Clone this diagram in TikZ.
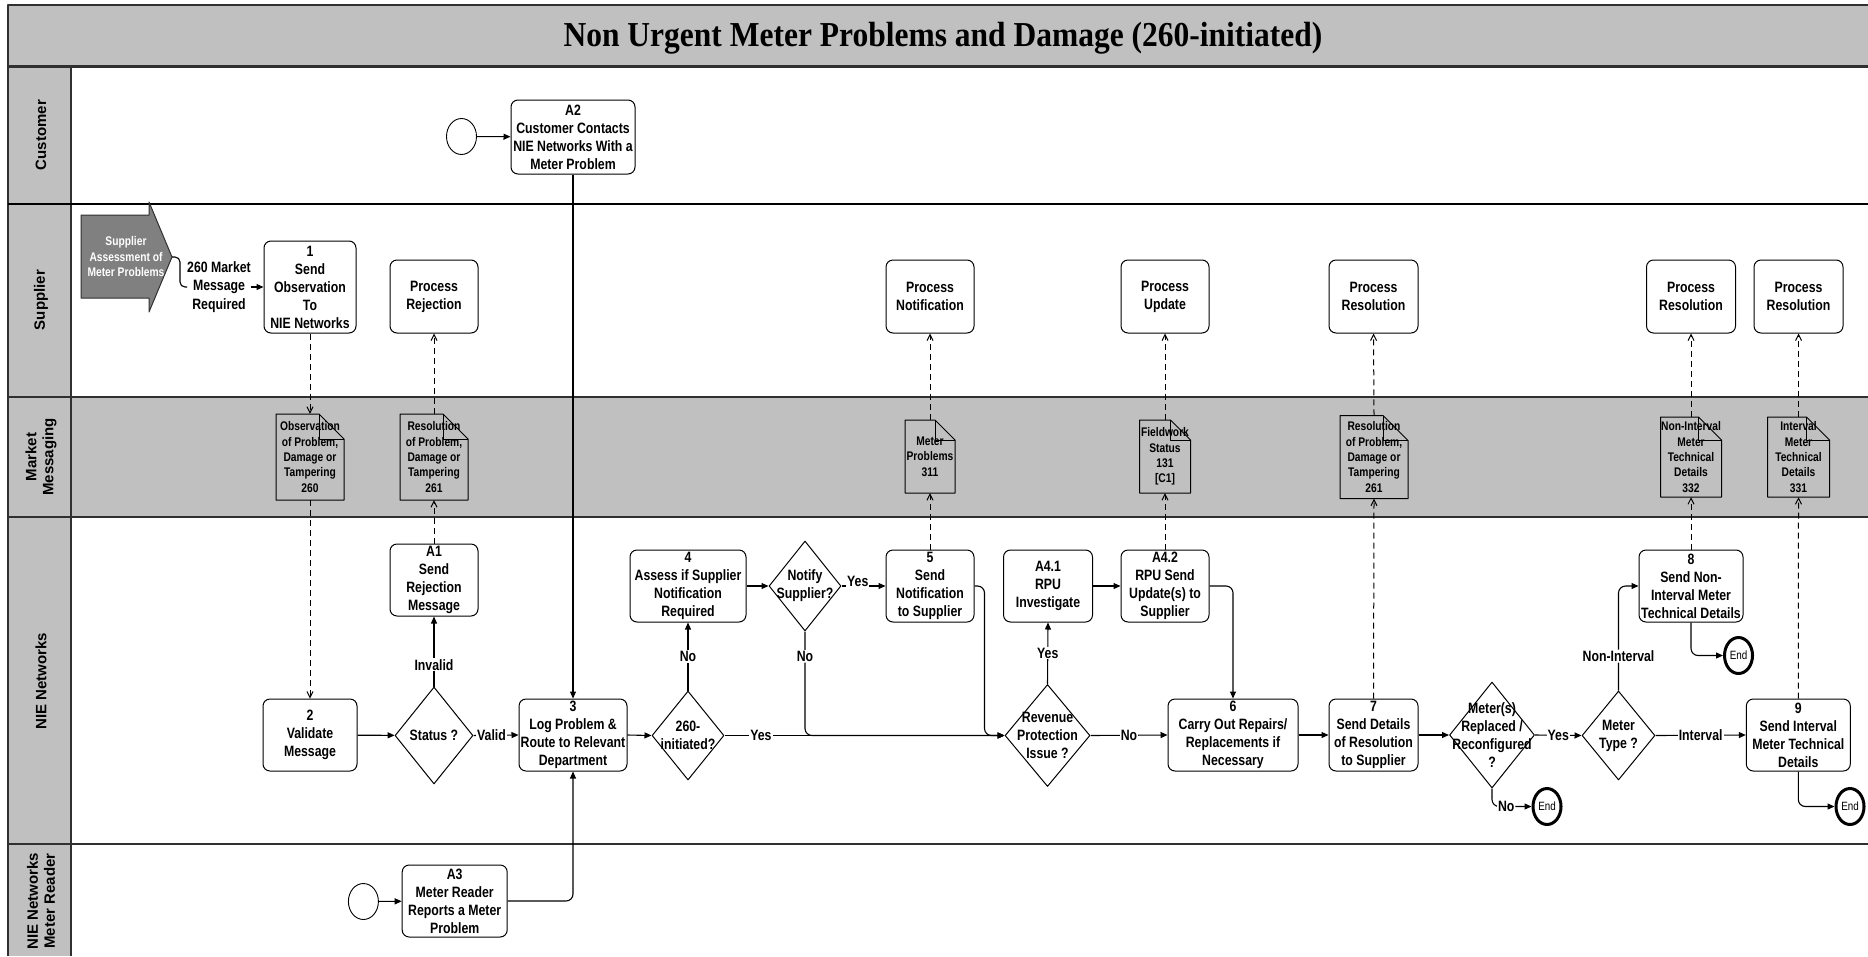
\documentclass[tikz,border=0pt]{standalone}
\usepackage{fontspec}
\usetikzlibrary{arrows.meta,shapes.geometric,calc}
\newfontfamily\nf[FakeStretch=0.82]{Liberation Sans}
\newfontfamily\lf{Liberation Sans}
\newfontfamily\tf[FakeStretch=0.9]{Liberation Serif}
\definecolor{lanegray}{HTML}{C0C0C0}
\definecolor{chevgray}{HTML}{808080}
\definecolor{lineclr}{HTML}{303030}
% name, x, y, w, h, fold, text
\newcommand\docnode[7]{%
  \filldraw[docline] ({#2-#4/2},{#3+#5/2}) -- ({#2-#4/2},{#3-#5/2}) -- ({#2+#4/2-#6},{#3-#5/2}) -- ({#2+#4/2},{#3-#5/2+#6}) -- ({#2+#4/2},{#3+#5/2}) -- cycle;
  \draw[line width=1pt] ({#2+#4/2-#6},{#3-#5/2}) -- ({#2+#4/2-#6},{#3-#5/2+#6}) -- ({#2+#4/2},{#3-#5/2+#6});
  \node[doct, minimum width=#4pt, minimum height=#5pt] (#1) at (#2,#3) {#7};
}
\begin{document}
\begin{tikzpicture}[x=1pt,y=-1pt,line join=round,
 box/.style={draw, rounded corners=7pt, fill=white, line width=1pt, align=center, inner sep=0pt, font=\nf\bfseries\fontsize{15}{18}\selectfont},
 dia/.style={draw, diamond, fill=white, line width=1pt, inner sep=0pt},
 dtext/.style={align=center, inner sep=0pt, font=\nf\bfseries\fontsize{15}{18}\selectfont},
 startc/.style={draw, ellipse, fill=white, line width=0.9pt, minimum width=30pt, minimum height=36pt, inner sep=0pt},
 endc/.style={draw, ellipse, fill=white, line width=3pt, minimum width=28pt, minimum height=36pt, inner sep=0pt, font=\nf\fontsize{12}{14}\selectfont},
 doct/.style={align=center, inner sep=0pt, font=\nf\bfseries\fontsize{12.5}{15.4}\selectfont},
 docline/.style={draw=black, fill=lanegray, line width=1pt},
 lane/.style={rotate=90, align=center, font=\lf\bfseries\fontsize{15}{17}\selectfont},
 chevt/.style={align=center, inner sep=0pt, text=white, font=\nf\bfseries\fontsize{12.5}{15.5}\selectfont},
 arr/.style={-{Triangle[length=7pt,width=6pt]}, line width=1.1pt},
 darr/.style={-{Straight Barb[length=6pt,width=6pt]}, line width=1pt, dash pattern=on 6pt off 4pt},
 plain/.style={line width=1.1pt},
 lbl/.style={fill=white, inner sep=1pt, font=\nf\bfseries\fontsize{15}{18}\selectfont},
 nlbl/.style={inner sep=0pt, align=center, font=\nf\bfseries\fontsize{15}{18.5}\selectfont},
]
\useasboundingbox (0,0) rectangle (1868,956);
% ---------- pool and lanes ----------
\fill[white] (0,0) rectangle (1868,956);
\fill[lanegray] (8,5) rectangle (1868,66);
\fill[lanegray] (8,66) rectangle (71,956);
\fill[lanegray] (71,397) rectangle (1868,517);
\draw[line width=1.5pt, lineclr] (8,956) -- (8,5) -- (1868,5);
\draw[line width=1.5pt, lineclr] (71,66) -- (71,956);
\draw[line width=1.3pt, black] (8,204) -- (1868,204);
\draw[line width=2.5pt, lineclr] (8,397) -- (1868,397);
\draw[line width=2pt, lineclr] (8,517) -- (1868,517);
\draw[line width=1.5pt, lineclr] (8,844) -- (1868,844);
\draw[line width=3pt, lineclr] (8,66) -- (1868,66);
\node (title) at (943,38) {\tf\bfseries\fontsize{35}{40}\selectfont Non Urgent Meter Problems and Damage (260-initiated)};
\node[lane] (lcust) at (41,135) {Customer};
\node[lane] (lsup) at (41,300) {Supplier};
\node[lane] (lmkt) at (41,457) {Market\\Messaging};
\node[lane] (lnie) at (41,681) {NIE Networks};
\node[lane] (lmr) at (41,901) {NIE Networks\\Meter Reader};
% ---------- chevron ----------
\filldraw[fill=chevgray, draw=lineclr, line width=1pt] (81,215) -- (149,215) -- (149,202) -- (172,257) -- (149,312) -- (149,298) -- (81,298) -- cycle;
\node[chevt] (chev) at (126,257) {Supplier\\Assessment of\\Meter Problems};
\coordinate (chevtip) at (172,257);
% ---------- Customer lane ----------
\node[startc] (s1) at (461.5,136.5) {};
\node[box, minimum width=124pt, minimum height=74pt] (A2) at (573,137) {A2\\Customer Contacts\\NIE Networks With a\\Meter Problem};
% ---------- Supplier lane ----------
\node[nlbl] (m260) at (219,287) {260 Market\\Message\\Required};
\node[box, minimum width=92pt, minimum height=92pt] (b1) at (310,287) {1\\Send\\Observation\\To\\NIE Networks};
\node[box, minimum width=88pt, minimum height=73pt] (prej) at (434,296.5) {Process\\Rejection};
\node[box, minimum width=88pt, minimum height=73pt] (pnot) at (930,296.5) {Process\\Notification};
\node[box, minimum width=88pt, minimum height=73pt] (pupd) at (1165,296.5) {Process\\Update};
\node[box, minimum width=89pt, minimum height=73pt] (pres1) at (1373.5,296.5) {Process\\Resolution};
\node[box, minimum width=89pt, minimum height=73pt] (pres2) at (1691,296.5) {Process\\Resolution};
\node[box, minimum width=89pt, minimum height=73pt] (pres3) at (1798.5,296.5) {Process\\Resolution};
% ---------- Market messaging documents ----------
\docnode{d260}{310}{457}{68}{86}{25}{Observation\\of Problem,\\Damage or\\Tampering\\260}
\docnode{d261a}{434}{457}{68}{86}{25}{Resolution\\of Problem,\\Damage or\\Tampering\\261}
\docnode{d311}{930}{456.5}{50}{73}{20}{Meter\\Problems\\311}
\docnode{d131}{1165}{456.5}{51}{73}{20}{Fieldwork\\Status\\131\\{}[C1]}
\docnode{d261b}{1374}{457}{68}{83}{25}{Resolution\\of Problem,\\Damage or\\Tampering\\261}
\docnode{d332}{1691}{457}{61}{80}{23}{Non-Interval\\Meter\\Technical\\Details\\332}
\docnode{d331}{1798.5}{457}{62}{80}{23}{Interval\\Meter\\Technical\\Details\\331}
% ---------- NIE Networks lane ----------
\node[box, minimum width=94pt, minimum height=72pt] (b2) at (310,735) {2\\Validate\\Message};
\node[dia, minimum width=78pt, minimum height=97pt] (st) at (434,735.5) {};
\node[dtext] (stt) at (st) {Status ?};
\node[box, minimum width=88pt, minimum height=72pt] (A1) at (434,580) {A1\\Send\\Rejection\\Message};
\node[box, minimum width=108pt, minimum height=72pt] (b3) at (573,735) {3\\Log Problem \&\\Route to Relevant\\Department};
\node[dia, minimum width=72pt, minimum height=89pt] (q260) at (688,735.5) {};
\node[dtext] (q260t) at (q260) {260-\\initiated?};
\node[box, minimum width=116pt, minimum height=72pt] (b4) at (688,586) {4\\Assess if Supplier\\Notification\\Required};
\node[dia, minimum width=72pt, minimum height=90pt] (qn) at (805,586) {};
\node[dtext] (qnt) at (qn) {Notify\\Supplier?};
\node[box, minimum width=88pt, minimum height=72pt] (b5) at (930,586) {5\\Send\\Notification\\to Supplier};
\node[dia, minimum width=85pt, minimum height=102pt] (rev) at (1047.5,735.5) {};
\node[dtext] (revt) at (rev) {Revenue\\Protection\\Issue ?};
\node[box, minimum width=89pt, minimum height=72pt] (A41) at (1048,586) {A4.1\\RPU\\Investigate};
\node[box, minimum width=88pt, minimum height=72pt] (A42) at (1165,586) {A4.2\\RPU Send\\Update(s) to\\Supplier};
\node[box, minimum width=130pt, minimum height=72pt] (b6) at (1233,735) {6\\Carry Out Repairs/\\Replacements if\\Necessary};
\node[box, minimum width=89pt, minimum height=72pt] (b7) at (1373.5,735) {7\\Send Details\\of Resolution\\to Supplier};
\node[dia, minimum width=85pt, minimum height=106pt] (qm) at (1492,735) {};
\node[dtext] (qmt) at (qm) {Meter(s)\\Replaced /\\Reconfigured\\?};
\node[dia, minimum width=73pt, minimum height=89pt] (qt) at (1618.5,735.5) {};
\node[dtext] (qtt) at (qt) {Meter\\Type ?};
\node[box, minimum width=104pt, minimum height=72pt] (b8) at (1691,586) {8\\Send Non-\\Interval Meter\\Technical Details};
\node[box, minimum width=104pt, minimum height=72pt] (b9) at (1798.3,735) {9\\Send Interval\\Meter Technical\\Details};
\node[endc] (e1) at (1547,806.5) {End};
\node[endc] (e2) at (1738.5,655.5) {End};
\node[endc] (e3) at (1850,806.5) {End};
% ---------- Meter reader lane ----------
\node[startc] (s2) at (363.4,901.5) {};
\node[box, minimum width=105pt, minimum height=72pt] (A3) at (454.7,901) {A3\\Meter Reader\\Reports a Meter\\Problem};
% ---------- connectors ----------
\draw[arr] (s1) -- (A2);
\draw[arr] (A2.south) -- (b3.north);
\draw[plain, rounded corners=5pt] (chevtip) -- (180,257) -- (180,287) -- (m260.west);
\draw[arr] (m260.east) -- (b1.west);
\draw[arr] (b2) -- (st);
\draw[arr] (st.east) -- node[lbl, pos=0.4] (lvalid) {Valid} (b3.west);
\draw[arr] (st.north) -- node[lbl, pos=0.31] (linv) {Invalid} (A1.south);
\draw[arr] (b3.east) -- (q260.west);
\draw[arr] (q260.north) -- node[lbl, pos=0.5] (lno1) {No} (b4.south);
\draw[arr] (q260.east) -- node[lbl, pos=0.13] (lyes1) {Yes} (rev.west);
\draw[arr] (b4.east) -- (qn.west);
\draw[arr] (qn.east) -- node[fill=white, inner sep=1pt, font=\nf\bfseries\fontsize{15}{18}\selectfont, pos=0.37, yshift=5pt] (lyes2) {Yes} (b5.west);
\draw[arr, rounded corners=7pt] (qn.south) -- node[lbl, pos=0.24] (lno2) {No} (qn.south |- rev.west) -- (rev.west);
\draw[arr, rounded corners=7pt] (b5.east) -| ($(rev.west)+(-20,0)$) -- (rev.west);
\draw[arr] (rev.north) -- node[lbl, pos=0.5] (lyes3) {Yes} (A41.south);
\draw[arr] (rev.east) -- node[lbl, pos=0.5] (lno3) {No} (b6.west);
\draw[arr] (A41.east) -- (A42.west);
\draw[arr, rounded corners=7pt] (A42.east) -| (b6.north);
\draw[arr] (b6.east) -- (b7.west);
\draw[arr] (b7.east) -- (qm.west);
\draw[arr] (qm.east) -- node[lbl, pos=0.5] (lyes4) {Yes} (qt.west);
\draw[arr] (qt.east) -- node[lbl, pos=0.5] (lint) {Interval} (b9.west);
\draw[arr, rounded corners=7pt] (qt.north) |- node[lbl, pos=0.165] (lnint) {Non-Interval} (b8.west);
\draw[arr, rounded corners=7pt] (qm.south) |- node[lbl, pos=0.68] (lno4) {No} (e1.west);
\draw[arr, rounded corners=7pt] (b8.south) |- (e2.west);
\draw[arr, rounded corners=7pt] (b9.south) |- (e3.west);
\draw[arr] (s2) -- (A3);
\draw[arr, rounded corners=7pt] (A3.east) -| (b3.south);
% dashed message flows
\draw[darr] (b1.south) -- (d260.north);
\draw[darr] (d260.south) -- (b2.north);
\draw[darr] (A1.north) -- (d261a.south);
\draw[darr] (d261a.north) -- (prej.south);
\draw[darr] (b5.north) -- (d311.south);
\draw[darr] (d311.north) -- (pnot.south);
\draw[darr] (A42.north) -- (d131.south);
\draw[darr] (d131.north) -- (pupd.south);
\draw[darr] (b7.north) -- (d261b.south);
\draw[darr] (d261b.north) -- (pres1.south);
\draw[darr] (b8.north) -- (d332.south);
\draw[darr] (d332.north) -- (pres2.south);
\draw[darr] (b9.north) -- (d331.south);
\draw[darr] (d331.north) -- (pres3.south);
\end{tikzpicture}
\end{document}
